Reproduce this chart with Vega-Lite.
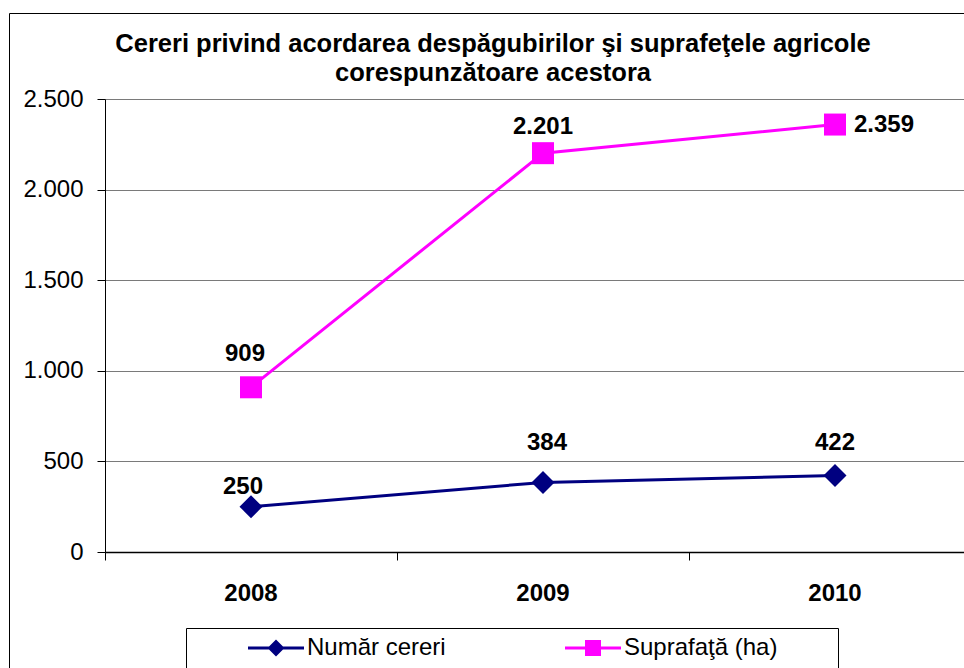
{
  "$schema": "https://vega.github.io/schema/vega-lite/v6.json",
  "autosize": {"type": "none"},
  "width": 1000,
  "height": 700,
  "padding": {"left": 9, "top": 13, "right": 0, "bottom": 0},
  "background": "#ffffff",
  "config": {
    "locale": {"number": {"decimal": ",", "thousands": ".", "grouping": [3], "currency": ["", " lei"]}},
    "view": {"stroke": "#000000", "strokeWidth": 1},
    "font": "Liberation Sans"
  },
  "title": {
    "text": ["Cereri privind acordarea despăgubirilor şi suprafeţele agricole", "corespunzătoare acestora"],
    "font": "Liberation Sans",
    "fontSize": 25.5,
    "fontWeight": "bold",
    "color": "#000000",
    "anchor": "middle",
    "frame": "group",
    "lineHeight": 29,
    "offset": -73,
    "dx": -16
  },
  "data": {
    "values": [
      {"an": "2008", "serie": "Număr cereri", "valoare": 250},
      {"an": "2009", "serie": "Număr cereri", "valoare": 384},
      {"an": "2010", "serie": "Număr cereri", "valoare": 422},
      {"an": "2008", "serie": "Suprafaţă (ha)", "valoare": 909},
      {"an": "2009", "serie": "Suprafaţă (ha)", "valoare": 2201},
      {"an": "2010", "serie": "Suprafaţă (ha)", "valoare": 2359}
    ]
  },
  "encoding": {
    "x": {
      "field": "an", "type": "nominal",
      "scale": {"type": "band", "range": [96, 972], "paddingInner": 0, "paddingOuter": 0},
      "axis": {
        "orient": "bottom", "offset": -161, "bandPosition": 0, "title": null,
        "labelAngle": 0, "labelFont": "Liberation Sans", "labelFontSize": 24, "labelFontWeight": "bold", "labelColor": "#000000",
        "labelPadding": 21, "tickSize": 8, "tickColor": "#000000", "domainColor": "#000000", "domainWidth": 1.5, "grid": false
      }
    },
    "y": {
      "field": "valoare", "type": "quantitative",
      "scale": {"domain": [0, 2500], "range": [539, 86], "nice": false},
      "axis": {
        "orient": "left", "offset": -96, "title": null, "values": [0, 500, 1000, 1500, 2000, 2500], "format": ",d",
        "labelFont": "Liberation Sans", "labelFontSize": 24, "labelColor": "#000000", "labelPadding": 14,
        "tickSize": 8, "tickColor": "#000000", "domainColor": "#000000", "domainWidth": 1,
        "grid": true, "gridColor": "#7a7a7a", "gridWidth": 1
      }
    }
  },
  "layer": [
    {
      "mark": {"type": "line", "strokeWidth": 3},
      "encoding": {
        "color": {
          "field": "serie", "type": "nominal",
          "scale": {"domain": ["Număr cereri", "Suprafaţă (ha)"], "range": ["#000080", "#FF00FF"]},
          "legend": {
            "orient": "none", "legendX": 177, "legendY": 615, "direction": "horizontal", "columns": 2,
            "title": " ", "titleOrient": "right", "titlePadding": 53, "titleFontSize": 10,
            "padding": 8, "strokeColor": "#000000", "fillColor": "#ffffff",
            "symbolSize": 400, "symbolOffset": 70, "labelOffset": 19, "columnPadding": 65,
            "labelFont": "Liberation Sans", "labelFontSize": 24, "labelColor": "#000000", "labelLimit": 400,
            "symbolStrokeWidth": 0,
            "encode": {
              "symbols": {
                "update": {
                  "shape": {"signal": "datum.value === 'Număr cereri' ? 'M-2.8,-0.15L-0.7,-0.15L0,-0.85L0.7,-0.15L2.8,-0.15L2.8,0.15L0.7,0.15L0,0.85L-0.7,0.15L-2.8,0.15Z' : 'M-2.8,-0.15L-0.8,-0.15L-0.8,-0.8L0.8,-0.8L0.8,-0.15L2.8,-0.15L2.8,0.15L0.8,0.15L0.8,0.8L-0.8,0.8L-0.8,0.15L-2.8,0.15Z'"},
                  "fill": {"signal": "datum.value === 'Număr cereri' ? '#000080' : '#FF00FF'"},
                  "fillOpacity": {"value": 1},
                  "strokeWidth": {"value": 0},
                  "opacity": {"value": 1}
                }
              }
            }
          }
        }
      }
    },
    {
      "transform": [{"filter": "datum.serie === 'Număr cereri'"}],
      "mark": {"type": "point", "shape": "diamond", "size": 529, "filled": true, "fill": "#000080", "opacity": 1, "strokeWidth": 0}
    },
    {
      "transform": [{"filter": "datum.serie === 'Suprafaţă (ha)'"}],
      "mark": {"type": "point", "shape": "square", "size": 484, "filled": true, "fill": "#FF00FF", "opacity": 1, "strokeWidth": 0}
    },
    {
      "transform": [{"filter": "datum.serie === 'Număr cereri' && datum.an === '2008'"}],
      "mark": {"type": "text", "font": "Liberation Sans", "fontSize": 24, "fontWeight": "bold", "color": "#000000", "baseline": "middle", "dx": -8, "dy": -20},
      "encoding": {"text": {"field": "valoare", "type": "quantitative", "format": ",d"}}
    },
    {
      "transform": [{"filter": "datum.serie === 'Număr cereri' && datum.an === '2009'"}],
      "mark": {"type": "text", "font": "Liberation Sans", "fontSize": 24, "fontWeight": "bold", "color": "#000000", "baseline": "middle", "dx": 4, "dy": -39},
      "encoding": {"text": {"field": "valoare", "type": "quantitative", "format": ",d"}}
    },
    {
      "transform": [{"filter": "datum.serie === 'Număr cereri' && datum.an === '2010'"}],
      "mark": {"type": "text", "font": "Liberation Sans", "fontSize": 24, "fontWeight": "bold", "color": "#000000", "baseline": "middle", "dx": 0, "dy": -33},
      "encoding": {"text": {"field": "valoare", "type": "quantitative", "format": ",d"}}
    },
    {
      "transform": [{"filter": "datum.serie === 'Suprafaţă (ha)' && datum.an === '2008'"}],
      "mark": {"type": "text", "font": "Liberation Sans", "fontSize": 24, "fontWeight": "bold", "color": "#000000", "baseline": "middle", "dx": -6, "dy": -33},
      "encoding": {"text": {"field": "valoare", "type": "quantitative", "format": ",d"}}
    },
    {
      "transform": [{"filter": "datum.serie === 'Suprafaţă (ha)' && datum.an === '2009'"}],
      "mark": {"type": "text", "font": "Liberation Sans", "fontSize": 24, "fontWeight": "bold", "color": "#000000", "baseline": "middle", "dx": 0, "dy": -26},
      "encoding": {"text": {"field": "valoare", "type": "quantitative", "format": ",d"}}
    },
    {
      "transform": [{"filter": "datum.serie === 'Suprafaţă (ha)' && datum.an === '2010'"}],
      "mark": {"type": "text", "font": "Liberation Sans", "fontSize": 24, "fontWeight": "bold", "color": "#000000", "baseline": "middle", "align": "left", "dx": 19, "dy": 0},
      "encoding": {"text": {"field": "valoare", "type": "quantitative", "format": ",d"}}
    }
  ]
}
